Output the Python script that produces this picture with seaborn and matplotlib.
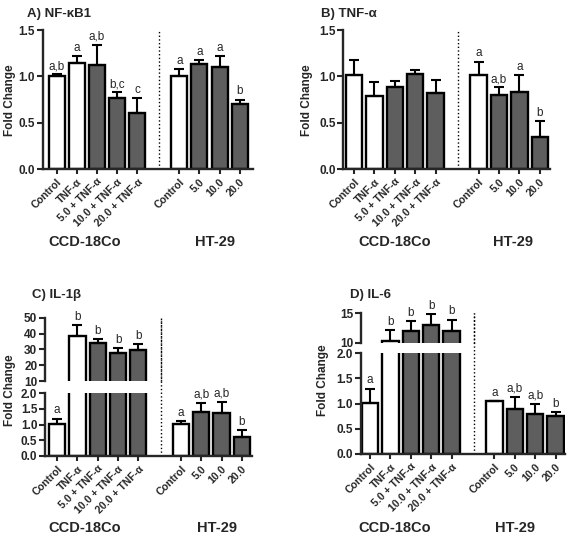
import numpy as np
import pandas as pd
import matplotlib
matplotlib.use('Agg')
import matplotlib.pyplot as plt
import seaborn as sns

# 数据
ccd_labels = ['Control', 'TNF-α', '5.0 + TNF-α', '10.0 + TNF-α', '20.0 + TNF-α']
ht_labels = ['Control', '5.0', '10.0', '20.0']
tick_labels = ccd_labels + ht_labels
positions = [0, 1, 2, 3, 4, 6.1, 7.1, 8.1, 9.1]
fill = ['open', 'open', 'filled', 'filled', 'filled', 'open', 'filled', 'filled', 'filled']

nfkb_mean = [1.00, 1.14, 1.12, 0.77, 0.60, 1.00, 1.13, 1.10, 0.70]
nfkb_err = [0.02, 0.08, 0.22, 0.06, 0.17, 0.08, 0.05, 0.12, 0.05]
nfkb_letters = ['a,b', 'a', 'a,b', 'b,c', 'c', 'a', 'a', 'a', 'b']

tnf_mean = [1.01, 0.79, 0.88, 1.02, 0.82, 1.01, 0.80, 0.83, 0.34]
tnf_err = [0.17, 0.15, 0.07, 0.05, 0.14, 0.15, 0.08, 0.18, 0.18]
tnf_letters = ['', '', '', '', '', 'a', 'a,b', 'a', 'b']

il1b_mean = [1.03, 38.6, 34.3, 27.9, 29.4, 1.03, 1.40, 1.35, 0.61]
il1b_err = [0.16, 6.8, 2.1, 3.2, 4.2, 0.07, 0.28, 0.37, 0.20]
il1b_letters = ['a', 'b', 'b', 'b', 'b', 'a', 'a,b', 'a,b', 'b']

il6_mean = [1.02, 10.3, 11.9, 12.9, 12.0, 1.05, 0.90, 0.80, 0.76]
il6_err = [0.28, 1.9, 1.7, 1.9, 1.9, 0.01, 0.24, 0.20, 0.07]
il6_letters = ['a', 'b', 'b', 'b', 'b', 'a', 'a,b', 'a,b', 'b']

W, H = 569, 536
palette = {'open': 'white', 'filled': '#5e5e5e'}

sns.set_style('ticks')
plt.rcParams['font.family'] = ['Liberation Sans', 'DejaVu Sans']

fig = plt.figure(figsize=(W / 100, H / 100), dpi=100)


def px_axes(left, right, top, bottom):
    return fig.add_axes([left / W, 1 - bottom / H, (right - left) / W, (bottom - top) / H])


def ftext(x, y, s, **kw):
    fig.text(x / W, 1 - y / H, s, **kw)


def draw_bars(ax, mean, err, xlim, ylim):
    df = pd.DataFrame({'pos': positions, 'val': mean, 'fill': fill})
    sns.barplot(data=df, x='pos', y='val', hue='fill', palette=palette, native_scale=True,
                dodge=False, legend=False, width=0.8, edgecolor='black', linewidth=1.7,
                errorbar=None, ax=ax)
    ax.errorbar(positions, mean, yerr=[np.zeros(len(err)), err], fmt='none', ecolor='black',
                elinewidth=1.5, capsize=3.3, capthick=1.5, zorder=1)
    ax.set_xlim(*xlim)
    ax.set_ylim(*ylim)
    ax.set_xlabel('')
    ax.set_ylabel('')
    for s in ['top', 'right']:
        ax.spines[s].set_visible(False)
    for s in ['left', 'bottom']:
        ax.spines[s].set_linewidth(1.7)
    ax.tick_params(axis='both', width=1.5, length=4, labelsize=8.5, pad=1.5)
    for t in ax.get_yticklabels():
        t.set_fontweight('bold')


def finish_lower(ax):
    ax.set_xticks(positions)
    ax.set_xticklabels(tick_labels, rotation=45, ha='right', rotation_mode='anchor',
                       fontsize=7.6, fontweight='bold')
    ax.tick_params(axis='x', length=3.5, pad=2)


def finish_upper(ax):
    ax.spines['bottom'].set_visible(False)
    ax.set_xticks([])


def letters_on(ax, mean, err, letters, limit=None):
    for p, m, e, l in zip(positions, mean, err, letters):
        if not l:
            continue
        if limit is not None and (m + e > limit) != (ax.get_ylim()[0] >= limit):
            continue
        ax.annotate(l, (p, m + e), xytext=(0, 1.5), textcoords='offset points',
                    ha='center', va='bottom', fontsize=8.5, annotation_clip=False)


def dotted(ax, ymax=1.0):
    ax.axvline(5.1, ymin=0, ymax=ymax, color='black', linestyle=':', linewidth=1.0, clip_on=False)


# A) NF-κB1
axA = px_axes(42.7, 252.7, 30, 169)
draw_bars(axA, nfkb_mean, nfkb_err, (-0.7, 9.75), (0, 1.5))
axA.set_yticks([0, 0.5, 1.0, 1.5])
finish_lower(axA)
letters_on(axA, nfkb_mean, nfkb_err, nfkb_letters)
dotted(axA)

# B) TNF-α
axB = px_axes(343.3, 550, 30, 169)
draw_bars(axB, tnf_mean, tnf_err, (-0.52, 9.6), (0, 1.5))
axB.set_yticks([0, 0.5, 1.0, 1.5])
finish_lower(axB)
letters_on(axB, tnf_mean, tnf_err, tnf_letters)
dotted(axB)

# C) IL-1β (断轴)
axCu = px_axes(45, 252, 317.7, 381)
axCl = px_axes(45, 252, 393, 456)
draw_bars(axCu, il1b_mean, il1b_err, (-0.6, 9.6), (10, 50))
draw_bars(axCl, il1b_mean, il1b_err, (-0.6, 9.6), (0, 2))
axCu.set_yticks([10, 20, 30, 40, 50])
axCl.set_yticks([0, 0.5, 1.0, 1.5, 2.0])
axCl.set_yticklabels(['0.0', '0.5', '1.0', '1.5', '2.0'], fontweight='bold')
finish_upper(axCu)
finish_lower(axCl)
letters_on(axCu, il1b_mean, il1b_err, il1b_letters, limit=2)
letters_on(axCl, il1b_mean, il1b_err, il1b_letters, limit=2)
dotted(axCu)
dotted(axCl, ymax=(456 - 317.7) / (456 - 393))

# D) IL-6 (断轴)
axDu = px_axes(360.7, 565, 313, 342.7)
axDl = px_axes(360.7, 565, 353.3, 454)
draw_bars(axDu, il6_mean, il6_err, (-0.46, 9.56), (10, 15))
draw_bars(axDl, il6_mean, il6_err, (-0.46, 9.56), (0, 2))
axDu.set_yticks([10, 15])
axDl.set_yticks([0, 0.5, 1.0, 1.5, 2.0])
axDl.set_yticklabels(['0.0', '0.5', '1.0', '1.5', '2.0'], fontweight='bold')
finish_upper(axDu)
finish_lower(axDl)
letters_on(axDu, il6_mean, il6_err, il6_letters, limit=2)
letters_on(axDl, il6_mean, il6_err, il6_letters, limit=2)
dotted(axDu)
dotted(axDl, ymax=(454 - 313) / (454 - 353.3))

# 标题、y 轴标签、分组标签
bold = dict(fontweight='bold')
ftext(27, 14, 'A) NF-κB1', fontsize=9.5, ha='left', va='center', **bold)
ftext(321, 14, 'B) TNF-α', fontsize=9.5, ha='left', va='center', **bold)
ftext(32, 295, 'C) IL-1β', fontsize=9.5, ha='left', va='center', **bold)
ftext(350, 295, 'D) IL-6', fontsize=9.5, ha='left', va='center', **bold)

for x, y in [(10, 100), (307, 100), (10, 390), (323, 380)]:
    ftext(x, y, 'Fold Change', fontsize=8.5, rotation=90, ha='center', va='center', **bold)

for x, y, s in [(85, 242, 'CCD-18Co'), (215, 242, 'HT-29'),
                (395, 242, 'CCD-18Co'), (513, 242, 'HT-29'),
                (85, 528, 'CCD-18Co'), (217, 528, 'HT-29'),
                (395, 528, 'CCD-18Co'), (515, 528, 'HT-29')]:
    ftext(x, y, s, fontsize=10.5, ha='center', va='center', **bold)

fig.savefig('out.png', dpi=100)
